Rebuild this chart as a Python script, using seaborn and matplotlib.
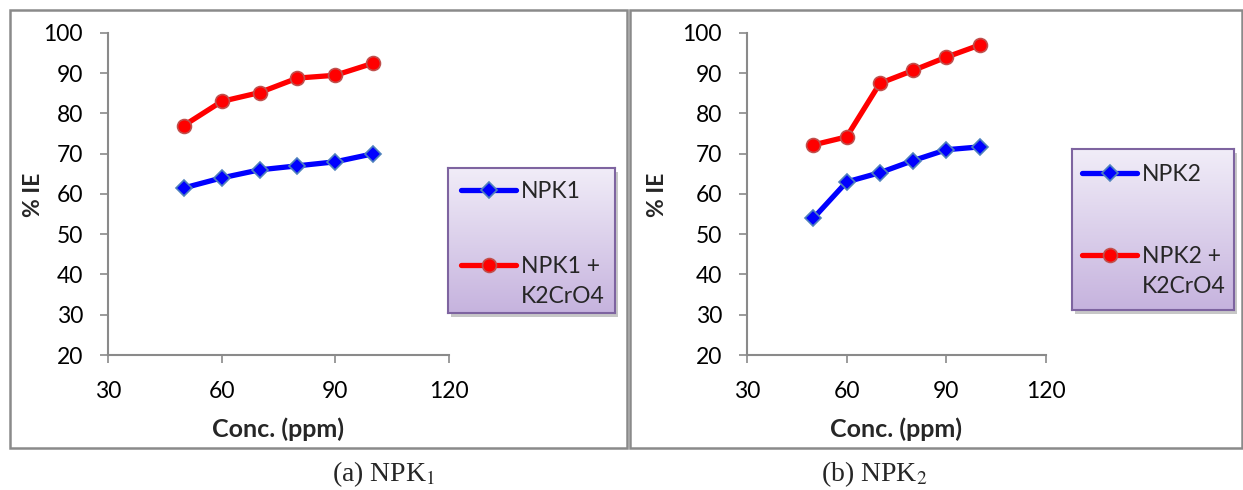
import numpy as np
import pandas as pd
import matplotlib
matplotlib.use("Agg")
import matplotlib.pyplot as plt
import seaborn as sns
from matplotlib.patches import Rectangle
from matplotlib.colors import LinearSegmentedColormap

# ---------------- data ----------------
conc = [50, 60, 70, 80, 90, 100]
npk1 = [61.5, 64.0, 66.0, 67.0, 68.0, 70.0]
npk1_k2cro4 = [77.0, 83.0, 85.2, 88.8, 89.5, 92.5]
npk2 = [54.0, 63.0, 65.3, 68.3, 71.0, 71.7]
npk2_k2cro4 = [72.2, 74.2, 87.5, 90.7, 94.0, 97.0]

labels_1 = ["NPK1", "NPK1 +\nK2CrO4"]
labels_2 = ["NPK2", "NPK2 +\nK2CrO4"]
captions = ["(a) NPK$_1$", "(b) NPK$_2$"]
x_ticks = [30, 60, 90, 120]
y_ticks = [20, 30, 40, 50, 60, 70, 80, 90, 100]

sns.set_theme(style="white")
plt.rcParams["font.family"] = ["Lato", "DejaVu Sans"]
plt.rcParams["mathtext.fontset"] = "stix"

W, H = 1243, 490
DPI = 100
fig = plt.figure(figsize=(W / DPI, H / DPI), dpi=DPI)
fig.patch.set_facecolor("white")


def fx(px):
    return px / W


def fy(py):
    return 1 - py / H


GRAY = "#8a8a8a"
BLUE = "#0000ff"
RED = "#ff0000"
LEG_FS = 16.5

# panel frames
fig.patches.append(Rectangle((fx(10), fy(448)), fx(627 - 10), (448 - 10) / H,
                             transform=fig.transFigure, fill=False, ec=GRAY, lw=1.8))
fig.patches.append(Rectangle((fx(629.5), fy(448)), fx(1242 - 629.5), (448 - 10) / H,
                             transform=fig.transFigure, fill=False, ec=GRAY, lw=1.8))

panels = [
    dict(ax_px=(108, 449), base=npk1, mix=npk1_k2cro4, labels=labels_1,
         ylab_x=33, leg=(448, 168, 615, 313), hx=13, hy=13, lsp=2.35, cap_x=384),
    dict(ax_px=(747, 1046), base=npk2, mix=npk2_k2cro4, labels=labels_2,
         ylab_x=658, leg=(1072, 149, 1234, 310), hx=10, hy=15, lsp=2.65, cap_x=874),
]

legends = []
for i, p in enumerate(panels):
    x0, x1 = p["ax_px"]
    ax = fig.add_axes([fx(x0), fy(355), fx(x1 - x0), (355 - 33) / H])
    df = pd.DataFrame({"conc": conc, "base": p["base"], "mix": p["mix"]})
    sns.lineplot(data=df, x="conc", y="base", ax=ax, color=BLUE, lw=3.8,
                 marker="D", markersize=8.5, markeredgecolor="#4f81bd",
                 markeredgewidth=1.2, label=p["labels"][0], legend=False)
    sns.lineplot(data=df, x="conc", y="mix", ax=ax, color=RED, lw=3.8,
                 marker="o", markersize=10, markeredgecolor="#c0504d",
                 markeredgewidth=1.2, label=p["labels"][1], legend=False)
    ax.set_xlim(30, 120)
    ax.set_ylim(20, 100)
    ax.set_xticks(x_ticks)
    ax.set_yticks(y_ticks)
    ax.set_xticklabels([str(t) for t in x_ticks])
    ax.set_yticklabels([str(t) for t in y_ticks])
    for s in ["top", "right"]:
        ax.spines[s].set_visible(False)
    for s in ["left", "bottom"]:
        ax.spines[s].set_color(GRAY)
        ax.spines[s].set_linewidth(1.5)
    ax.tick_params(axis="both", direction="out", length=6, width=1.2,
                   color=GRAY, labelsize=16.5, labelcolor="black",
                   left=True, bottom=True)
    ax.tick_params(axis="x", pad=13)
    ax.tick_params(axis="y", pad=12)
    ax.set_xlabel("")
    ax.set_ylabel("")
    ax.set_facecolor("none")
    fig.text(fx((x0 + x1) / 2), fy(429), "Conc. (ppm)", ha="center", va="center",
             fontsize=18, fontweight="bold")
    fig.text(fx(p["ylab_x"]), fy(195), "% IE", ha="center", va="center",
             rotation=90, fontsize=16.5, fontweight="bold")

    # legend background with gradient + shadow
    lx0, ly0, lx1, ly1 = p["leg"]
    shadow = Rectangle((fx(lx0 + 3), fy(ly1 + 4)), fx(lx1 - lx0), (ly1 - ly0) / H,
                       transform=fig.transFigure, fc="#9a9a9a", ec="none",
                       alpha=0.55, zorder=1)
    fig.patches.append(shadow)
    lax = fig.add_axes([fx(lx0), fy(ly1), fx(lx1 - lx0), (ly1 - ly0) / H])
    lax.set_zorder(2)
    grad = np.linspace(0, 1, 256).reshape(-1, 1)
    cmap = LinearSegmentedColormap.from_list("purp", ["#f1edf8", "#c6b3de"])
    lax.imshow(grad, aspect="auto", cmap=cmap, extent=[0, 1, 0, 1], origin="upper")
    lax.set_xticks([])
    lax.set_yticks([])
    for s in lax.spines.values():
        s.set_color("#7e64a0")
        s.set_linewidth(1.5)
    handles, labs = ax.get_legend_handles_labels()
    bw, bh = lx1 - lx0, ly1 - ly0
    leg = lax.legend(handles, labs, loc="upper left",
                     bbox_to_anchor=(p["hx"] / bw, 1 - p["hy"] / bh),
                     frameon=False, fontsize=LEG_FS, handlelength=55 / (LEG_FS * DPI / 72),
                     handletextpad=0.2, labelspacing=p["lsp"], borderaxespad=0,
                     borderpad=0)
    for t in leg.get_texts():
        t.set_linespacing(1.55)
    legends.append(leg)

    fig.text(fx(p["cap_x"]), fy(474), captions[i], ha="center", va="center",
             fontsize=20, family=["Liberation Serif", "DejaVu Serif"])

# align the sample of each two-line entry with the first line of its label
fig.canvas.draw()
renderer = fig.canvas.get_renderer()
for leg in legends:
    texts = leg.get_texts()
    ext1 = texts[0].get_window_extent(renderer)
    ext2 = texts[1].get_window_extent(renderer)
    h0 = leg.legend_handles[0]
    h0_y = h0.get_transform().transform((0, h0.get_ydata()[0]))[1]
    # offset of the first sample relative to the top of its label
    off = ext1.y1 - h0_y
    hdl = leg.legend_handles[1]
    cur_y = hdl.get_transform().transform((0, hdl.get_ydata()[0]))[1]
    target = ext2.y1 - off
    hdl.set_ydata(np.asarray(hdl.get_ydata()) + (target - cur_y) * 72 / DPI)

fig.savefig("out.png", dpi=DPI, facecolor="white")
